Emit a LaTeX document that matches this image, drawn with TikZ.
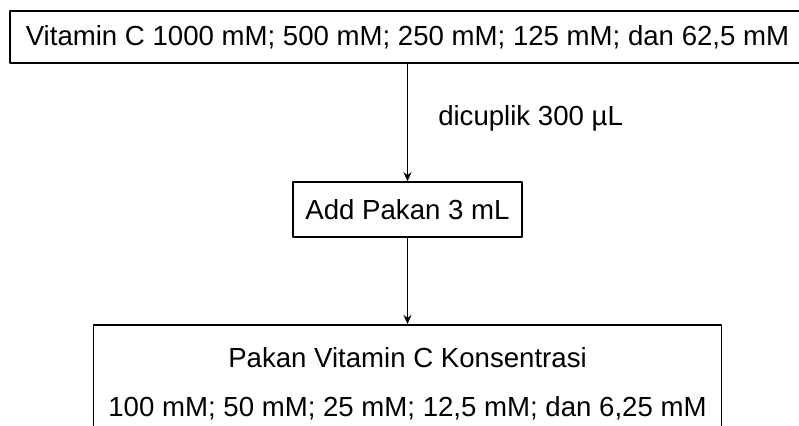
\documentclass[tikz,border=0pt]{standalone}
\usepackage{fontspec}
\setmainfont{Liberation Sans}
\usetikzlibrary{arrows.meta}
\begin{document}
\begin{tikzpicture}[x=1pt, y=-1pt, >={Stealth[length=9pt, width=8pt]}, line join=round,
  kotak/.style={draw, line width=1.5pt, inner xsep=0pt, align=center, font=\fontsize{27.6}{49}\selectfont},
  panah/.style={->, line width=1.5pt},
  keterangan/.style={font=\fontsize{27.6}{33}\selectfont, inner sep=0pt}]
  % 0. Batas gambar
  \useasboundingbox (0,0) rectangle (799,425);
  \clip (0,0) rectangle (799,425);

  % 1. Kotak larutan stok vitamin C
  \node[kotak, minimum width=795pt, minimum height=52pt] (stok) at (407.5,37) {Vitamin C 1000 mM; 500 mM; 250 mM; 125 mM; dan 62,5 mM};

  % 2. Kotak penambahan pakan
  \node[kotak, minimum width=229pt, minimum height=55pt] (pakan) at (407.5,209.5) {Add Pakan 3 mL};

  % 3. Kotak hasil konsentrasi pakan
  \node[kotak, anchor=north, minimum width=628pt, inner ysep=23pt] (hasil) at (407.5,324) {Pakan Vitamin C Konsentrasi\\100 mM; 50 mM; 25 mM; 12,5 mM; dan 6,25 mM};

  % 4. Panah antar tahapan
  \draw[panah] (stok) -- node[keterangan, right=30pt, yshift=4pt] (ambil) {dicuplik 300 µL} (pakan);
  \draw[panah] (pakan) -- (hasil);
\end{tikzpicture}
\end{document}
